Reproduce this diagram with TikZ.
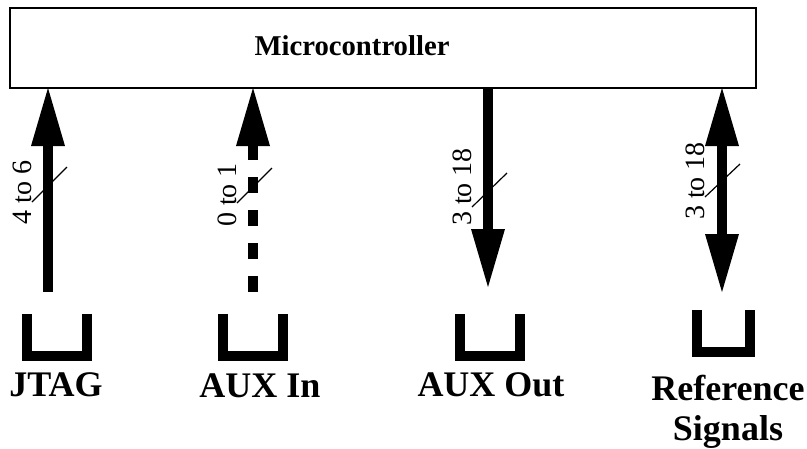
\documentclass[tikz,border=0pt]{standalone}
\usepackage{fontspec}
\setmainfont{Liberation Serif}
\usetikzlibrary{arrows.meta}

\begin{document}
\begin{tikzpicture}[
  x=1pt, y=-1pt,
  mcubox/.style={draw, line width=2pt, minimum width=746pt, minimum height=80pt,
    inner sep=0pt, outer sep=0pt},
  title/.style={font=\bfseries\fontsize{28.7}{30}\selectfont, inner sep=0pt, anchor=base},
  lbl/.style={font=\bfseries\fontsize{36}{40}\selectfont, inner sep=0pt, align=center},
  count/.style={font=\fontsize{28}{28}\selectfont, rotate=90, inner sep=0pt},
  tip/.tip={Triangle[length=58pt, width=34pt, line width=0pt]},
  bus/.style={line width=10pt, -tip},
  bibus/.style={line width=10pt, tip-tip},
  plug/.style={line width=10pt, line join=miter},
  tick/.style={line width=1.2pt},
]
\useasboundingbox (0,0) rectangle (807,448);

\node[mcubox] (mcu) at (383,48) {};
\node[title] (mcutext) at (352,55) {Microcontroller};

\coordinate (jtagend) at (48,292);
\coordinate (auxinend) at (253,292);
\coordinate (auxoutend) at (488,287);
\coordinate (refend) at (722,292);

\draw[bus] (jtagend) -- (jtagend |- mcu.south);
\draw[bus, dash pattern=on 16pt off 17pt] (auxinend) -- (auxinend |- mcu.south);
\draw[bus] (auxoutend |- mcu.south) -- (auxoutend);
\draw[bibus] (refend |- mcu.south) -- (refend);

\draw[tick] (32,202) -- (67,167);
\draw[tick] (237,203) -- (272,168);
\draw[tick] (472,207) -- (507,173);
\draw[tick] (705,197) -- (740,164);

\node[count] (jtagcount) at (22,192.5) {4 to 6};
\node[count] (auxincount) at (227,195) {0 to 1};
\node[count] (auxoutcount) at (462,187) {3 to 18};
\node[count] (refcount) at (695,181) {3 to 18};

\draw[plug] (27,314) -- (27,356) -- (87,356) -- (87,314);
\draw[plug] (223,314) -- (223,356) -- (283,356) -- (283,314);
\draw[plug] (460,314) -- (460,356) -- (520,356) -- (520,314);
\draw[plug] (697,310) -- (697,352) -- (750,352) -- (750,310);

\node[lbl, anchor=base] (jtag) at (56,396) {JTAG};
\node[lbl, anchor=base] (auxin) at (260,397) {AUX In};
\node[lbl, anchor=base] (auxout) at (491,396) {AUX Out};
\node[lbl] (ref) at (728,411.5) {Reference\\Signals};
\end{tikzpicture}
\end{document}
